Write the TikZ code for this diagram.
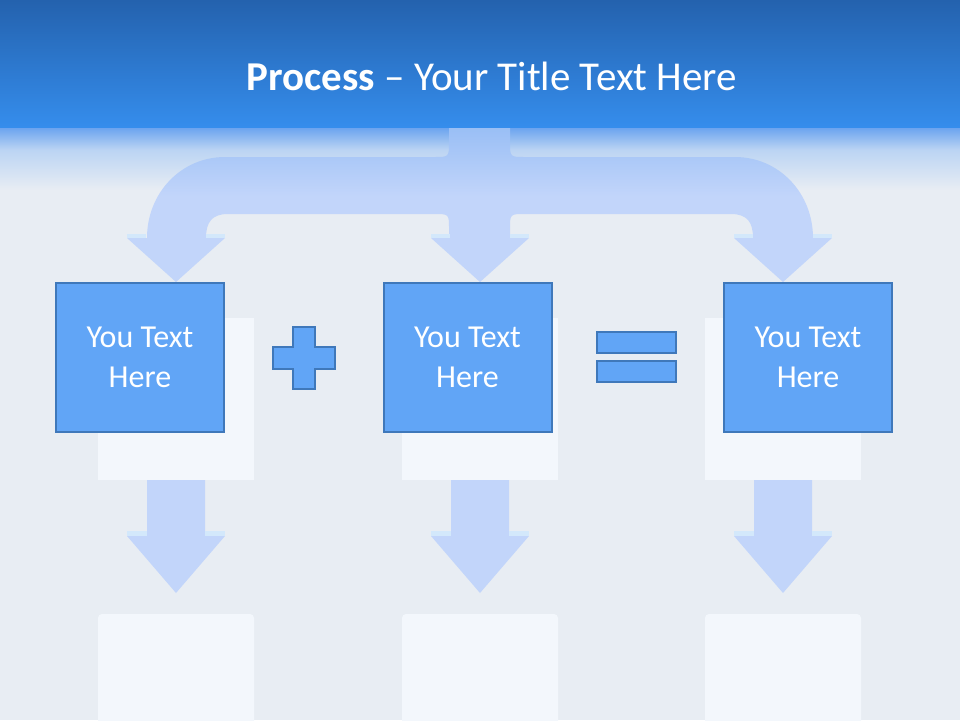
\documentclass[tikz,border=0pt]{standalone}
\usepackage{fontspec}
\setmainfont{Carlito}
\definecolor{bandtop}{HTML}{2462AE}
\definecolor{bandbot}{HTML}{358DEC}
\definecolor{fadetop}{HTML}{68A2EF}
\definecolor{fademid}{HTML}{BBD4F3}
\definecolor{pagebg}{HTML}{E8EDF3}
\definecolor{arrowfill}{HTML}{C2D5FA}
\definecolor{arrowtop}{HTML}{8FB9F4}
\definecolor{shoulder}{HTML}{D3E8FB}
\definecolor{panelfill}{HTML}{F3F7FC}
\definecolor{boxfill}{HTML}{61A5F6}
\definecolor{boxline}{HTML}{3F78BA}
\pgfdeclareverticalshading{fadeshade}{100bp}{color(0bp)=(pagebg); color(25bp)=(pagebg); color(57bp)=(fademid); color(75bp)=(fadetop); color(100bp)=(fadetop)}
\pgfdeclareverticalshading{branchshade}{100bp}{color(0bp)=(arrowfill); color(50bp)=(arrowfill); color(75bp)=(arrowtop); color(100bp)=(arrowtop)}

\begin{document}
\begin{tikzpicture}[x=1pt, y=-1pt,
    textbox/.style={rectangle, draw=boxline, line width=2pt, fill=boxfill, minimum width=168pt, minimum height=149pt, text=white, align=center, font=\fontsize{32}{40}\selectfont},
    signpart/.style={draw=boxline, line width=2pt, fill=boxfill},
    panel/.style={fill=panelfill},
    blockarrow/.style={fill=arrowfill}]
    % Page background
    \path[use as bounding box] (0,0) rectangle (960,720);
    \fill[pagebg] (0,0) rectangle (960,720);
    \shade[shading=fadeshade] (0,127) rectangle (960,190);

    % Branching arrow from the title to the three boxes
    \shade[shading=branchshade] (449,110) -- (449,142) .. controls (449,157) .. (434,157)
        -- (225,157) .. controls (181,157) and (147,193) .. (147,238)
        -- (127,238) -- (176,282) -- (225,238) -- (206,238)
        .. controls (206,222) and (212,214) .. (228,214) -- (434,214)
        .. controls (449,214) .. (449,229) -- (449,238) -- (431,238) -- (480,282) -- (529,238) -- (510,238)
        -- (510,229) .. controls (510,214) .. (525,214) -- (731,214)
        .. controls (747,214) and (753,222) .. (753,238) -- (734,238) -- (783,282) -- (832,238) -- (813,238)
        .. controls (813,193) and (779,157) .. (735,157) -- (525,157)
        .. controls (510,157) .. (510,142) -- (510,110) -- cycle;
    \foreach \c in {176,480,783} {
        \fill[shoulder] (\c-49,234) rectangle (\c-30,238);
        \fill[shoulder] (\c+30,234) rectangle (\c+49,238);
    }

    % Title band
    \shade[top color=bandtop, bottom color=bandbot] (0,0) rectangle (960,127);
    \node[anchor=base, text=white, font=\fontsize{41}{48}\selectfont] (title) at (492,90) {\textbf{Process} -- Your Title Text Here};

    % Panels and arrows below each box
    \foreach \c in {176,480,783} {
        \fill[panel] (\c-78,318) rectangle (\c+78,480);
        \fill[panel, rounded corners=4pt] (\c-78,730) -- (\c-78,614) -- (\c+78,614) -- (\c+78,730) -- cycle;
        \fill[blockarrow] (\c-29,480) -- (\c-29,536) -- (\c-49,536) -- (\c,593) -- (\c+49,536) -- (\c+29,536) -- (\c+29,480) -- cycle;
        \fill[shoulder] (\c-49,531) rectangle (\c-29,536);
        \fill[shoulder] (\c+29,531) rectangle (\c+49,536);
    }

    % Text boxes
    \node[textbox] (first) at (140,357.5) {You Text\\Here};
    \node[textbox] (second) at (467.5,357.5) {You Text\\Here};
    \node[textbox] (result) at (808,357.5) {You Text\\Here};

    % Plus sign
    \draw[signpart] (293,327) -- (315,327) -- (315,347) -- (335,347) -- (335,369) -- (315,369)
        -- (315,389) -- (293,389) -- (293,369) -- (273,369) -- (273,347) -- (293,347) -- cycle;

    % Equal sign
    \draw[signpart] (597,332) rectangle (676,353);
    \draw[signpart] (597,361) rectangle (676,382);
\end{tikzpicture}
\end{document}
